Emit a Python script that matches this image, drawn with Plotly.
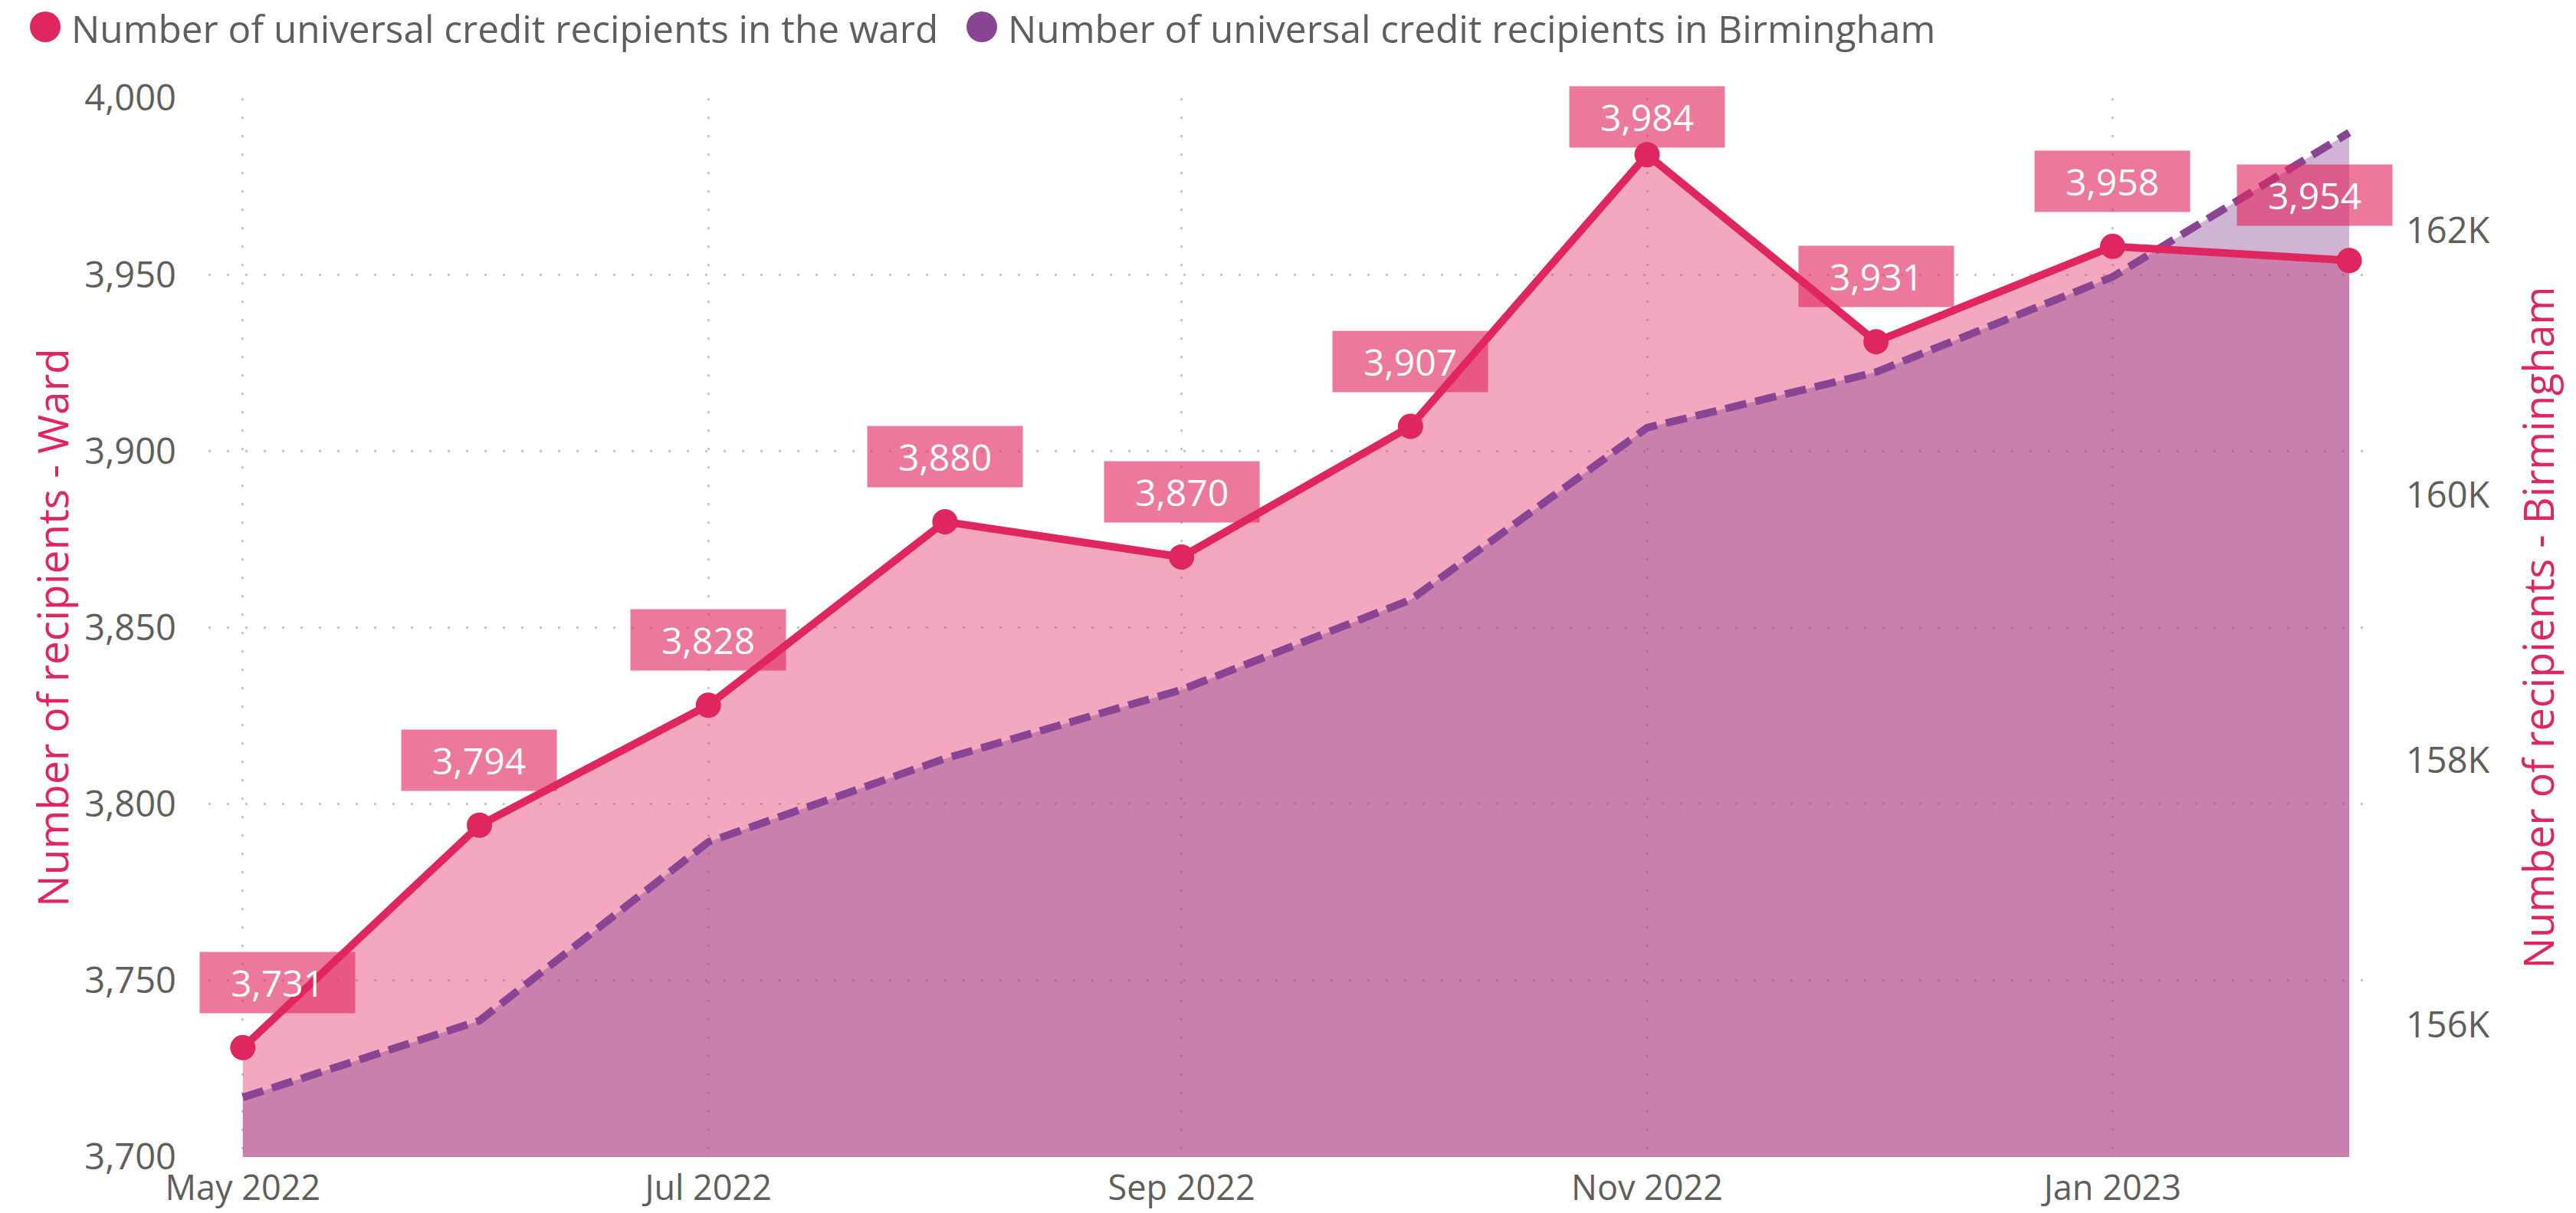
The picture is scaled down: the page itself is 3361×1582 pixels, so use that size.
import plotly.graph_objects as go

# ---- data ----
months = ["2022-05-01", "2022-06-01", "2022-07-01", "2022-08-01", "2022-09-01",
          "2022-10-01", "2022-11-01", "2022-12-01", "2023-01-01", "2023-02-01"]
ward = [3731, 3794, 3828, 3880, 3870, 3907, 3984, 3931, 3958, 3954]
birmingham = [155450, 156030, 157380, 158010, 158530, 159210, 160510, 160930, 161650, 162740]

left_ticks = [3700, 3750, 3800, 3850, 3900, 3950, 4000]
right_ticks = [156000, 158000, 160000, 162000]
right_tick_labels = ["156K", "158K", "160K", "162K"]
x_ticks = ["2022-05-01", "2022-07-01", "2022-09-01", "2022-11-01", "2023-01-01"]
x_tick_labels = ["May 2022", "Jul 2022", "Sep 2022", "Nov 2022", "Jan 2023"]

ward_name = "Number of universal credit recipients in the ward"
bham_name = "Number of universal credit recipients in Birmingham"

# ---- style ----
PINK = "#E0265E"
PURPLE = "#8A4494"
GREY = "#605E5C"
FONT = "Segoe UI, Open Sans, Noto Sans, sans-serif"
GRID = dict(showgrid=True, gridcolor="#C8C8C8", gridwidth=3, griddash="3px,21px")

# body margin is removed (post_script), so the figure fills the window
W, H = 3361, 1582
ML, MT = 272, 128
MR = W - 3090
MB = H - 1509
PW, PH = W - ML - MR, H - MT - MB
Y_RANGE = [3700, 4000]
Y2_RANGE = [155000, 163000]


def px_x(p):
    return (p - ML) / PW


def px_y(p):
    return (H - MB - p) / PH


fig = go.Figure()
fig.add_trace(go.Scatter(x=months, y=ward, yaxis="y", mode="none", fill="tozeroy",
                         fillcolor="rgba(224,38,94,0.4)", name=ward_name, showlegend=False,
                         hoverinfo="skip"))
fig.add_trace(go.Scatter(x=months, y=birmingham, yaxis="y2", mode="none", fill="tozeroy",
                         fillcolor="rgba(138,68,148,0.4)", name=bham_name, showlegend=False,
                         hoverinfo="skip"))
fig.add_trace(go.Scatter(x=months, y=birmingham, yaxis="y2", mode="lines",
                         line=dict(color=PURPLE, width=10, dash="28px,12px"),
                         name=bham_name, showlegend=False))
fig.add_trace(go.Scatter(x=months, y=ward, yaxis="y3", mode="lines+markers",
                         line=dict(color=PINK, width=10),
                         marker=dict(color=PINK, size=33),
                         name=ward_name, showlegend=False))

# data labels (kept inside the top of the plot like the original)
n = len(months)
for i, (m, v) in enumerate(zip(months, ward)):
    xs = 45 if i == 0 else (-45 if i == n - 1 else 0)
    py = MT + (Y_RANGE[1] - v) / (Y_RANGE[1] - Y_RANGE[0]) * PH
    ys = min(85, py - (MT + 25))
    fig.add_annotation(x=m, y=v, xref="x", yref="y", text=f"{v:,}", showarrow=False,
                       yshift=ys, xshift=xs, width=200, height=77,
                       bgcolor="rgba(224,38,94,0.62)",
                       font=dict(family=FONT, size=48, color="white"))

# legend: coloured circles + text
legend_items = [(ward_name, PINK, 59, 91), (bham_name, PURPLE, 1281, 1313)]
for name, color, cx, tx in legend_items:
    fig.add_shape(type="circle", xref="paper", yref="paper",
                  xsizemode="pixel", ysizemode="pixel",
                  xanchor=px_x(cx), yanchor=px_y(35),
                  x0=-20, x1=20, y0=-20, y1=20,
                  fillcolor=color, line=dict(width=0))
    fig.add_annotation(xref="paper", yref="paper", x=px_x(tx), y=px_y(37),
                       xanchor="left", yanchor="middle", showarrow=False,
                       text=name, font=dict(family=FONT, size=49.5, color=GREY))

fig.update_layout(
    width=W, height=H,
    margin=dict(l=ML, r=MR, t=MT, b=MB, autoexpand=False),
    paper_bgcolor="white", plot_bgcolor="white",
    font=dict(family=FONT, color=GREY),
    showlegend=False,
    xaxis=dict(type="date", range=["2022-04-26 12:00", "2023-02-03 12:00"],
               tickvals=x_ticks, ticktext=x_tick_labels, ticks="",
               tickfont=dict(family=FONT, size=45, color=GREY), automargin=False,
               ticklabelstandoff=10, zeroline=False, showline=False, **GRID),
    yaxis=dict(range=Y_RANGE, tickvals=left_ticks, tickformat=",", ticks="",
               tickfont=dict(family=FONT, size=47, color=GREY), ticklabelstandoff=41,
               automargin=False,
               title=dict(text="Number of recipients - Ward",
                          font=dict(family=FONT, size=55, color=PINK), standoff=3),
               zeroline=False, showline=False, **GRID),
    yaxis2=dict(range=Y2_RANGE, overlaying="y", side="right",
                tickvals=right_ticks, ticktext=right_tick_labels, ticks="",
                tickfont=dict(family=FONT, size=47, color=GREY), ticklabelstandoff=48,
                automargin=False,
                title=dict(text="Number of recipients - Birmingham",
                           font=dict(family=FONT, size=54, color=PINK), standoff=46),
                showgrid=False, zeroline=False, showline=False),
    yaxis3=dict(range=Y_RANGE, overlaying="y", visible=False),
)

fig.write_html("out.html",
               config={"displayModeBar": False},
               post_script="document.body.style.margin='0';document.body.style.overflow='hidden';")
